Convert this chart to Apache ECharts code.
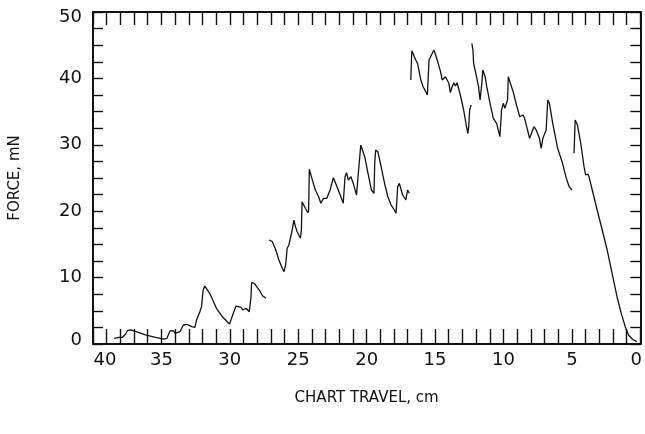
<!DOCTYPE html>
<html>
<head>
<meta charset="utf-8">
<script src="https://cdn.jsdelivr.net/npm/echarts@6/dist/echarts.min.js"></script>
<style>html,body{margin:0;padding:0;background:#fff}#c{width:645px;height:434px}</style>
</head>
<body>
<div id="c"></div>
<script>
// Chart travel (cm) and force (mN), one pair of arrays per pen stroke
var travel1 = [38.46,38.10,37.85,37.61,37.49,37.25,37.01,36.89,36.17,35.44,34.84,34.60,34.36,34.12,34.00,33.64,33.40,33.15,32.79,32.55,32.43,32.19,32.07,31.95,31.83,31.47,30.98,30.51,30.02,29.90,29.66,29.54,29.42,29.18,29.06,28.81,28.58,28.45,28.41,28.21,27.85,27.61,27.37];
var force1  = [0.86,1.01,1.01,1.51,2.00,2.11,1.96,2.00,1.36,1.01,0.75,0.86,2.00,1.96,1.61,1.85,2.86,2.97,2.61,2.52,3.61,4.86,5.62,8.13,8.73,7.64,5.38,4.02,3.01,2.86,5.12,5.72,5.53,5.53,5.12,5.38,4.86,7.12,9.23,9.14,8.13,7.27,6.88];

var travel2 = [27.13,26.89,26.64,26.41,26.17,26.04,25.92,25.81,25.68,25.56,25.44,25.32,25.20,25.08,24.84,24.77,24.72,24.48,24.29,24.24,24.19,24.00,23.75,23.51,23.35,23.15,22.91,22.79,22.67,22.43,22.31,22.07,21.71,21.58,21.47,21.34,21.15,20.98,20.74,20.62,20.43,20.33,20.14,19.90,19.65,19.46,19.41,19.34,19.18,18.94,18.69,18.45,18.21,17.97,17.85,17.73,17.61,17.37,17.13,17.01,16.88];
var force2  = [15.66,15.41,14.16,12.65,11.40,10.89,11.90,14.41,14.91,14.76,17.17,18.67,17.67,16.91,15.92,17.17,21.43,20.44,19.77,20.18,26.31,24.95,23.19,22.18,21.19,21.94,21.94,22.18,23.19,25.05,24.95,23.19,21.19,25.20,25.80,24.70,25.20,24.20,22.44,22.18,29.97,29.97,28.21,25.71,23.19,22.70,27.21,29.22,28.96,26.70,24.20,22.18,20.93,20.18,19.68,23.69,24.20,22.44,21.69,23.19,22.70];

var travel3 = [16.77,16.70,16.41,16.28,16.04,15.87,15.73,15.56,15.49,15.44,15.20,15.08,14.84,14.60,14.48,14.35,14.24,13.99,13.88,13.75,13.63,13.51,13.39,13.15,12.91,12.72,12.60,12.54,12.47,12.36];
var force3  = [39.76,44.17,42.77,42.27,39.76,38.75,38.66,37.50,37.24,42.77,43.78,44.28,42.77,41.01,39.76,39.86,40.26,39.26,37.85,38.75,39.35,38.86,39.35,37.50,35.24,32.98,31.73,32.73,35.24,35.99];

var travel4 = [12.31,12.23,12.18,12.02,11.82,11.71,11.58,11.51,11.34,11.22,10.98,10.74,10.50,10.26,10.14,10.01,9.90,9.70,9.65,9.54,9.29,9.05,8.81,8.57,8.45,8.21,8.09,7.97,7.77,7.61,7.37,7.24,7.12,7.01,6.88,6.76,6.64,6.40,6.04,5.92,5.68,5.44,5.20,5.00];
var force4  = [45.29,44.28,42.27,40.77,38.75,36.75,39.26,41.27,40.26,38.75,36.25,33.99,33.24,31.22,35.24,36.25,35.50,36.75,40.26,40.02,38.00,35.99,34.23,34.49,33.99,31.97,30.98,30.98,32.73,32.23,30.98,29.47,30.98,31.22,32.23,36.75,36.25,33.24,29.47,29.22,27.21,25.20,23.69,23.19];

var travel5 = [4.84,4.76,4.59,4.35,4.11,3.99,3.82,3.75,3.51,3.15,2.78,2.42,2.06,1.70,1.39,1.10,0.86,0.57,0.25];
var force5  = [28.72,33.73,32.98,30.23,26.70,25.45,25.60,25.20,23.19,20.18,17.17,14.16,10.65,7.12,4.62,2.61,1.36,0.71,0.35];

var xTickLabels = ['40','35','30','25','20','15','10','5','0'];
var yTickLabels = ['0','10','20','30','40','50'];

function zip(a, b) { return a.map(function (v, i) { return [v, b[i]]; }); }
var strokes = [[travel1, force1], [travel2, force2], [travel3, force3], [travel4, force4], [travel5, force5]];

var ink = '#111';
var font = 'DejaVu Sans';

var chart = echarts.init(document.getElementById('c'), null, {renderer: 'canvas'});

function xFmt(v) {
  var s = String(Math.round(v));
  if (Math.abs(v % 5) > 1e-6 || xTickLabels.indexOf(s) < 0) return '';
  if (s === '40') return '{l|40}';
  if (s === '0') return '{r|0}';
  return s;
}
function yFmt(v) {
  var s = String(Math.round(v));
  if (Math.abs(v % 10) > 1e-6 || yTickLabels.indexOf(s) < 0) return '';
  if (s === '50') return '{t|50}';
  if (s === '0') return '{b|0}';
  return s;
}

var axisLine = {show: true, onZero: false, lineStyle: {color: ink, width: 2}};

chart.setOption({
  animation: false,
  backgroundColor: '#fff',
  grid: {left: 92, right: 2, top: 12, bottom: 90, containLabel: false},
  xAxis: [{
    type: 'value', min: 0, max: 40, interval: 1, inverse: true, position: 'bottom',
    axisLine: axisLine,
    axisTick: {show: true, inside: true, length: 15, lineStyle: {color: ink, width: 1.4}},
    splitLine: {show: false},
    axisLabel: {
      formatter: xFmt, color: ink, fontFamily: font, fontSize: 18, margin: 7,
      rich: {l: {padding: [0, 0, 0, 24], fontSize: 18, fontFamily: font, color: ink},
             r: {padding: [0, 8, 0, 0], fontSize: 18, fontFamily: font, color: ink}}
    },
    name: 'CHART TRAVEL, cm', nameLocation: 'middle', nameGap: 47,
    nameTextStyle: {color: ink, fontFamily: font, fontSize: 15}
  }, {
    type: 'value', min: 0, max: 40, interval: 1, inverse: true, position: 'top',
    axisLine: axisLine,
    axisTick: {show: true, inside: true, length: 13, lineStyle: {color: ink, width: 1.4}},
    splitLine: {show: false}, axisLabel: {show: false}
  }],
  yAxis: [{
    type: 'value', min: 0, max: 50, interval: 2.5, position: 'left',
    axisLine: axisLine,
    axisTick: {show: true, inside: true, length: 10, lineStyle: {color: ink, width: 1.4}},
    splitLine: {show: false},
    axisLabel: {
      formatter: yFmt, color: ink, fontFamily: font, fontSize: 18, margin: 11,
      rich: {t: {padding: [10, 0, 0, 0], fontSize: 18, fontFamily: font, color: ink},
             b: {padding: [0, 0, 8, 0], fontSize: 18, fontFamily: font, color: ink}}
    },
    name: 'FORCE, mN', nameLocation: 'middle', nameGap: 70, nameRotate: 90,
    nameTextStyle: {color: ink, fontFamily: font, fontSize: 15}
  }, {
    type: 'value', min: 0, max: 50, interval: 2.5, position: 'right',
    axisLine: axisLine,
    axisTick: {show: true, inside: true, length: 10, lineStyle: {color: ink, width: 1.4}},
    splitLine: {show: false}, axisLabel: {show: false}
  }],
  series: strokes.map(function (s) {
    return {
      type: 'line', xAxisIndex: 0, yAxisIndex: 0, showSymbol: false, symbol: 'none',
      data: zip(s[0], s[1]),
      lineStyle: {color: ink, width: 1.3}
    };
  })
});
</script>
</body>
</html>
